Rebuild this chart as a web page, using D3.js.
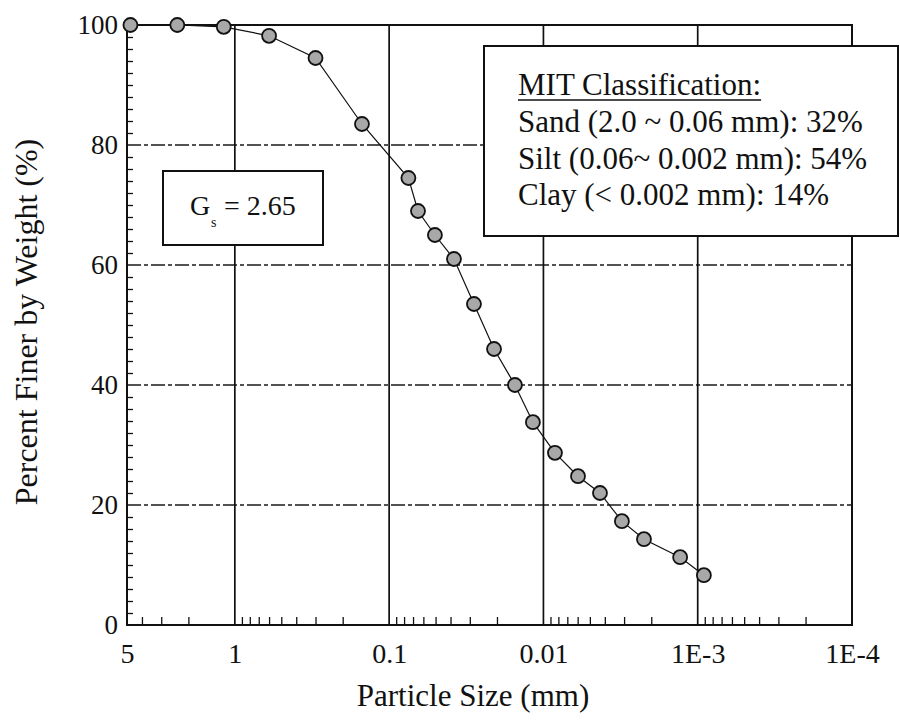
<!DOCTYPE html>
<html>
<head>
<meta charset="utf-8">
<script src="https://cdn.jsdelivr.net/npm/d3@7"></script>
<style>
  html, body { margin: 0; padding: 0; background: #fff; }
  svg { display: block; }
  svg text { font-family: "Liberation Serif", "Times New Roman", Times, "DejaVu Serif", serif; fill: #111; }
</style>
</head>
<body>
<svg id="chart" width="900" height="727"></svg>
<script>
// ---- data ----
const particleSize = [4.75, 2.36, 1.18, 0.6, 0.3, 0.15, 0.075, 0.065, 0.0505, 0.038, 0.0282, 0.0209, 0.0153, 0.0117, 0.00842, 0.00597, 0.0043, 0.0031, 0.00223, 0.0013, 0.000912];
const percentFiner = [100, 100, 99.7, 98.2, 94.5, 83.5, 74.5, 69, 65, 61, 53.5, 46, 40, 33.8, 28.7, 24.8, 22, 17.3, 14.3, 11.3, 8.3];
const xTickValues = [5, 1, 0.1, 0.01, 0.001, 0.0001];
const xTickLabels = ["5", "1", "0.1", "0.01", "1E-3", "1E-4"];
const yTickValues = [0, 20, 40, 60, 80, 100];
const xTitle = "Particle Size (mm)";
const yTitle = "Percent Finer by Weight (%)";
const legendLines = ["Sand (2.0 ~ 0.06 mm): 32%", "Silt (0.06~ 0.002 mm): 54%", "Clay (< 0.002 mm): 14%"];
const legendTitle = "MIT Classification:";

const FONT = '"Liberation Serif", "Times New Roman", Times, "DejaVu Serif", serif';
const svg = d3.select("#chart");
const L = 127, R = 852, T = 25, B = 625;

const x = d3.scaleLog().domain([5, 0.0001]).range([L, R]);
const y = d3.scaleLinear().domain([0, 100]).range([B, T]);

svg.append("rect").attr("width", 900).attr("height", 727).attr("fill", "#fff");

// horizontal dashed gridlines
const gridY = yTickValues.filter(v => v > 0 && v < 100);
svg.append("g").selectAll("line").data(gridY).join("line")
  .attr("x1", L).attr("x2", R)
  .attr("y1", d => y(d)).attr("y2", d => y(d))
  .attr("stroke", "#1a1a1a").attr("stroke-width", 1.4)
  .attr("stroke-dasharray", "14,3,4,3");

// vertical solid gridlines
const gridX = xTickValues.filter(v => v < 5 && v > 0.0001);
svg.append("g").selectAll("line").data(gridX).join("line")
  .attr("x1", d => x(d)).attr("x2", d => x(d))
  .attr("y1", T).attr("y2", B)
  .attr("stroke", "#111").attr("stroke-width", 1.7);

// minor x ticks (inside, pointing up)
const minorX = [];
[1, 0.1, 0.01, 0.001, 0.0001].forEach(dec => {
  for (let m = 2; m <= 9; m++) {
    const v = dec * m;
    if (v <= 5 && v >= 0.0001 && !xTickValues.includes(v)) minorX.push(v);
  }
});
const minorXAxis = d3.axisBottom(x).tickValues(minorX).tickSize(-8).tickFormat("");
svg.append("g").attr("transform", `translate(0,${B})`).call(minorXAxis)
  .call(g => g.select(".domain").remove())
  .call(g => g.selectAll("line").attr("stroke", "#111").attr("stroke-width", 1.3));

// minor y ticks (inside)
const minorY = d3.range(0, 101, 2).filter(v => v % 20 !== 0);
const minorYAxis = d3.axisLeft(y).tickValues(minorY).tickSize(-6).tickFormat("");
svg.append("g").attr("transform", `translate(${L},0)`).call(minorYAxis)
  .call(g => g.select(".domain").remove())
  .call(g => g.selectAll("line").attr("stroke", "#111").attr("stroke-width", 1.3));

// labelled axes
const xAxis = d3.axisBottom(x).tickValues(xTickValues).tickSize(0).tickPadding(18)
  .tickFormat((d, i) => xTickLabels[i]);
svg.append("g").attr("transform", `translate(0,${B})`).call(xAxis)
  .attr("font-family", FONT)
  .call(g => g.select(".domain").remove())
  .call(g => g.selectAll("text").style("font-size", "28px").style("font-family", FONT).attr("fill", "#111"));

const yAxis = d3.axisLeft(y).tickValues(yTickValues).tickSize(0).tickPadding(9);
svg.append("g").attr("transform", `translate(${L},0)`).call(yAxis)
  .attr("font-family", FONT)
  .call(g => g.select(".domain").remove())
  .call(g => g.selectAll("text").style("font-size", "27px").style("font-family", FONT).attr("fill", "#111"));

// frame
svg.append("rect").attr("x", L).attr("y", T).attr("width", R - L).attr("height", B - T)
  .attr("fill", "none").attr("stroke", "#111").attr("stroke-width", 2);

// data line and markers
const pts = particleSize.map((d, i) => [d, percentFiner[i]]);
svg.append("path").datum(pts)
  .attr("d", d3.line().x(d => x(d[0])).y(d => y(d[1])))
  .attr("fill", "none").attr("stroke", "#111").attr("stroke-width", 1.2);
svg.append("g").selectAll("circle").data(pts).join("circle")
  .attr("cx", d => x(d[0])).attr("cy", d => y(d[1])).attr("r", 7)
  .attr("fill", "#a8a8a8").attr("stroke", "#111").attr("stroke-width", 1.8);

// Gs box
svg.append("rect").attr("x", 163).attr("y", 171).attr("width", 160).attr("height", 74)
  .attr("fill", "#fff").attr("stroke", "#111").attr("stroke-width", 2);
svg.append("text").attr("x", 190).attr("y", 215).style("font-family", FONT).style("font-size", "28px").text("G");
svg.append("text").attr("x", 211).attr("y", 227).style("font-family", FONT).style("font-size", "14px").text("s");
svg.append("text").attr("x", 224).attr("y", 215).style("font-family", FONT).style("font-size", "28px").text("= 2.65");

// MIT legend box
svg.append("rect").attr("x", 484).attr("y", 46).attr("width", 414).attr("height", 190)
  .attr("fill", "#fff").attr("stroke", "#111").attr("stroke-width", 2);
const lt = svg.append("text").attr("x", 518).attr("y", 95).style("font-family", FONT).style("font-size", "31px").text(legendTitle);
const ltw = lt.node().getComputedTextLength();
svg.append("line").attr("x1", 518).attr("x2", 518 + ltw).attr("y1", 100).attr("y2", 100)
  .attr("stroke", "#111").attr("stroke-width", 1.5);
legendLines.forEach((t, i) => {
  svg.append("text").attr("x", 518).attr("y", 132 + i * 36.5).style("font-family", FONT).style("font-size", "31px").text(t);
});

// titles
svg.append("text").attr("x", 473).attr("y", 706).attr("text-anchor", "middle")
  .style("font-family", FONT).style("font-size", "31px").text(xTitle);
svg.append("text").attr("transform", "translate(37,322) rotate(-90)").attr("text-anchor", "middle")
  .style("font-family", FONT).style("font-size", "32px").text(yTitle);
</script>
</body>
</html>
